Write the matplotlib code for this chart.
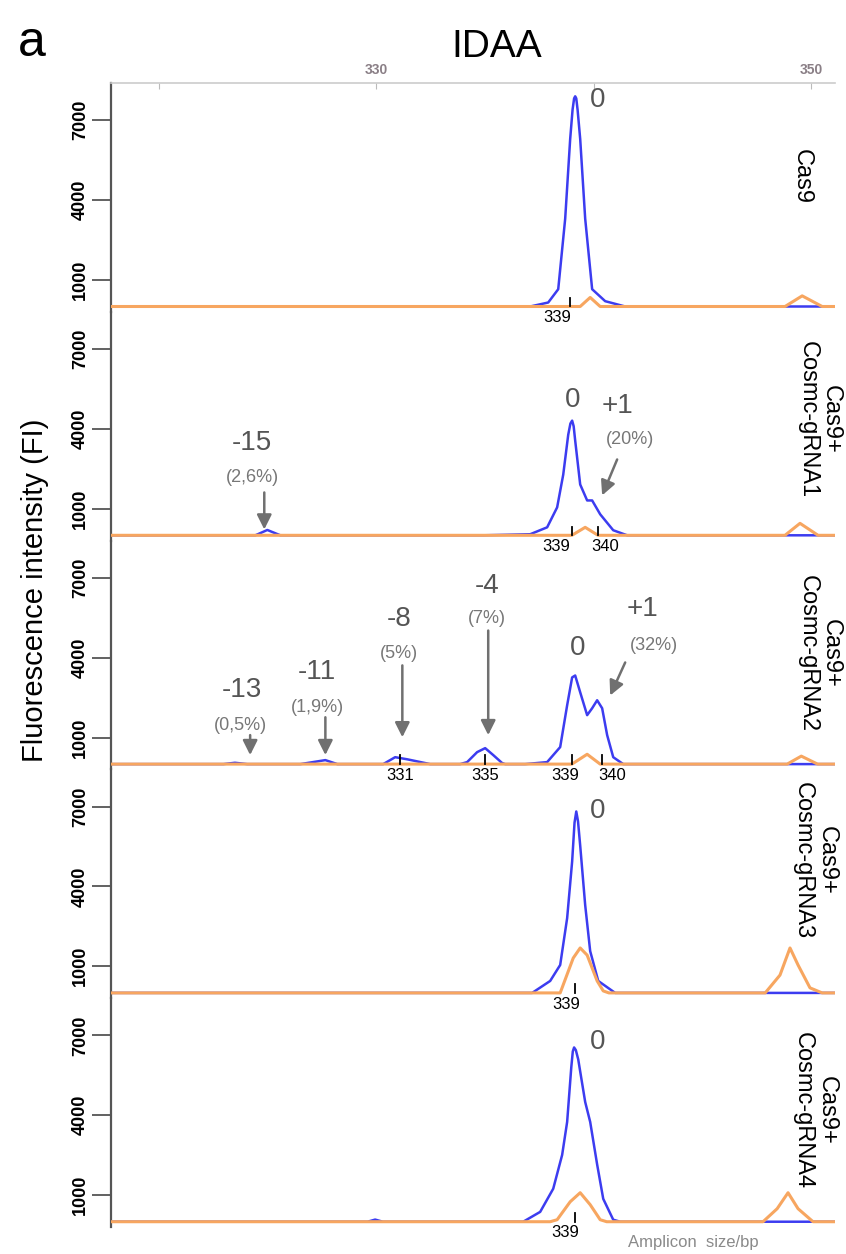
import matplotlib.pyplot as plt

plt.rcParams['font.family'] = ['Liberation Sans', 'DejaVu Sans']

BLUE = '#3c3cf0'
ORANGE = '#f7a660'
GREY = '#666666'

# x in bp, y in fluorescence intensity, one list per panel (top to bottom)
blue_x = [
    [317.8, 337.08, 337.91, 338.37, 338.69, 338.92, 339.03, 339.1, 339.15, 339.2, 339.26, 339.38, 339.61, 339.93, 340.53,
     341.45, 351.1],
    [317.8, 324.44, 324.99, 325.59, 334.92, 337.08, 337.86, 338.32, 338.6, 338.83, 338.93, 339.01, 339.08, 339.15, 339.38,
     339.7, 339.93, 340.3, 340.9, 341.54, 351.1],
    [317.8, 322.97, 323.5, 324.07, 326.51, 327.66, 328.21, 330.32, 330.87, 331.43, 332.48, 333.86, 334.18, 334.64, 335.01,
     335.38, 335.79, 335.93, 336.85, 337.86, 338.46, 338.78, 339.01, 339.15, 339.38, 339.7, 339.93, 340.16, 340.39, 340.62,
     340.9, 341.36, 351.1],
    [317.8, 337.17, 338.0, 338.46, 338.78, 339.01, 339.12, 339.2, 339.28, 339.38, 339.61, 339.84, 340.21, 340.99, 351.1],
    [317.8, 329.6, 329.95, 330.3, 336.76, 337.54, 338.14, 338.55, 338.78, 338.97, 339.04, 339.1, 339.18, 339.29, 339.61,
     339.84, 340.16, 340.44, 340.9, 341.22, 351.1],
]
blue_y = [
    [0, 0, 150, 650, 3300, 6300, 7400, 7820, 7900, 7820, 7400, 6300, 3300, 650, 200, 0, 0],
    [0, 0, 200, 0, 0, 40, 300, 1050, 2280, 3780, 4200, 4310, 4100, 3560, 1910, 1310, 1310, 790, 190, 0, 0],
    [0, 0, 50, 0, 0, 150, 0, 0, 260, 180, 0, 0, 75, 450, 600, 340, 40, 0, 0, 75, 640, 2210, 3260, 3330, 2700, 1840, 2100,
     2400, 2100, 1090, 260, 0, 0],
    [0, 0, 450, 1050, 2810, 4940, 6400, 6820, 6450, 5540, 3300, 1570, 450, 0, 0],
    [0, 0, 80, 0, 0, 370, 1240, 2510, 3750, 5800, 6400, 6550, 6450, 6100, 4500, 3750, 2150, 860, 75, 0, 0],
]
orange_x = [
    [317.8, 339.38, 339.84, 340.3, 348.8, 349.59, 350.51, 351.1],
    [317.8, 339.0, 339.61, 340.2, 348.8, 349.49, 350.32, 351.1],
    [317.8, 339.0, 339.7, 340.3, 348.9, 349.55, 350.3, 351.1],
    [317.8, 338.46, 339.06, 339.38, 339.7, 340.16, 340.44, 340.7, 347.89, 348.57, 349.03, 349.4, 349.95, 350.51, 351.1],
    [317.8, 338.0, 338.32, 338.92, 339.38, 339.84, 340.3, 340.6, 347.79, 348.44, 348.94, 349.4, 350.09, 351.1],
]
orange_y = [
    [0, 0, 340, 0, 0, 400, 0, 0],
    [0, 0, 300, 0, 0, 450, 0, 0],
    [0, 0, 370, 0, 0, 300, 0, 0],
    [0, 0, 1310, 1690, 1420, 450, 75, 0, 0, 670, 1690, 1050, 190, 0, 0],
    [0, 0, 75, 750, 1090, 640, 75, 0, 0, 490, 1090, 490, 0, 0],
]

sample_labels = ['Cas9', 'Cas9+\nCosmc-gRNA1', 'Cas9+\nCosmc-gRNA2', 'Cas9+\nCosmc-gRNA3', 'Cas9+\nCosmc-gRNA4']
sample_x = [349.59, 350.37, 350.37, 350.18, 350.18]
sample_y = [4870, 4340, 4160, 4980, 4190]

y_ticks = [1000, 4000, 7000]
top_ticks = [320, 330, 340, 350]
top_tick_labels = ['', '330', '', '350']

# wild-type peak label per panel
zero_x = [340.16, 339.01, 339.24, 340.16, 340.16]
zero_y = [7750, 5090, 4380, 6850, 6740]

# indel annotations
indel_panel = [1, 1, 2, 2, 2, 2, 2]
indel_text = ['-15', '+1', '-13', '-11', '-8', '-4', '+1']
indel_pct = ['(2,6%)', '(20%)', '(0,5%)', '(1,9%)', '(5%)', '(7%)', '(32%)']
indel_tx = [324.3, 341.08, 323.84, 327.29, 331.06, 335.1, 342.23]
indel_ty = [3480, 4870, 2770, 3450, 5470, 6700, 5840]
pct_x = [324.3, 341.68, 323.75, 327.29, 331.06, 335.1, 342.78]
pct_y = [2170, 3600, 1460, 2130, 4160, 5470, 4460]
arrow_x0 = [324.85, 341.08, 324.2, 327.66, 331.2, 335.15, 341.45]
arrow_y0 = [1610, 2850, 1090, 1760, 3710, 5020, 3820]
arrow_x1 = [324.85, 340.39, 324.2, 327.66, 331.2, 335.15, 340.76]
arrow_y1 = [220, 1500, 340, 340, 1010, 1090, 2580]

# called sizes under the peaks
size_panel = [0, 1, 1, 2, 2, 2, 2, 3, 4]
size_text = ['339', '339', '340', '331', '335', '339', '340', '339', '339']
size_tick = [338.92, 339.01, 340.21, 331.1, 335.01, 339.01, 340.39, 339.15, 339.15]
size_pos = [338.32, 338.28, 340.53, 331.1, 335.01, 338.69, 340.85, 338.74, 338.69]

fig, axes = plt.subplots(5, 1, figsize=(8.46, 12.54), dpi=100)
fig.subplots_adjust(left=0.1312, right=0.987, top=0.9338, bottom=0.0215, hspace=0)

for i, ax in enumerate(axes):
    ax.patch.set_visible(False)
    ax.plot(blue_x[i], blue_y[i], color=BLUE, lw=1.8, zorder=2, solid_joinstyle='round')
    ax.plot(orange_x[i], orange_y[i], color=ORANGE, lw=2.2, zorder=3, solid_joinstyle='round')
    ax.set_xlim(317.8, 351.1)
    ax.set_ylim(-200, 8400)
    for s in ['top', 'right', 'bottom']:
        ax.spines[s].set_visible(False)
    ax.spines['left'].set_color('#555555')
    ax.spines['left'].set_linewidth(1.6)
    ax.set_yticks(y_ticks)
    ax.set_yticklabels([str(t) for t in y_ticks], rotation=90, va='center', fontsize=13, fontweight='bold')
    ax.tick_params(axis='y', length=14, width=1.3, color='#555555', pad=2)
    ax.tick_params(axis='x', bottom=False, labelbottom=False, top=False)
    ax.text(sample_x[i], sample_y[i], sample_labels[i], rotation=-90, ha='center', va='center',
            multialignment='center', fontsize=17, linespacing=1.1, zorder=5)
    ax.text(zero_x[i], zero_y[i], '0', ha='center', va='center', fontsize=20, color='#555555')

top = axes[0]
top.spines['top'].set_visible(True)
top.spines['top'].set_color('#cccccc')
top.spines['top'].set_linewidth(1.2)
top.set_xticks(top_ticks)
top.set_xticklabels(top_tick_labels)
top.tick_params(axis='x', top=True, labeltop=True, direction='in', length=4, color='#bbbbbb',
                labelsize=10, labelcolor='#8a7f86', pad=4)
for lab in top.get_xticklabels():
    lab.set_fontweight('bold')

for k in range(len(indel_text)):
    ax = axes[indel_panel[k]]
    ax.text(indel_tx[k], indel_ty[k], indel_text[k], ha='center', va='center', fontsize=20, color='#555555')
    ax.text(pct_x[k], pct_y[k], indel_pct[k], ha='center', va='center', fontsize=13, color='#777777')
    ax.annotate('', xy=(arrow_x1[k], arrow_y1[k]), xytext=(arrow_x0[k], arrow_y0[k]),
                arrowprops=dict(arrowstyle='-|>', color='#707070', lw=1.8, mutation_scale=22,
                                shrinkA=0, shrinkB=0))

for k in range(len(size_text)):
    ax = axes[size_panel[k]]
    ax.plot([size_tick[k], size_tick[k]], [0, 330], color='black', lw=1.3, zorder=4)
    ax.text(size_pos[k], -420, size_text[k], ha='center', va='center', fontsize=12, color='black', zorder=4)

fig.text(0.041, 0.529, 'Fluorescence intensity (FI)', rotation=90, ha='center', va='center', fontsize=21)
fig.text(0.5875, 0.9625, 'IDAA', ha='center', va='center', fontsize=28)
fig.text(0.038, 0.966, 'a', ha='center', va='center', fontsize=36)
fig.text(0.82, 0.0095, 'Amplicon  size/bp', ha='center', va='center', fontsize=12, color='#8a8a8a')

fig.savefig('out.png', dpi=100)
